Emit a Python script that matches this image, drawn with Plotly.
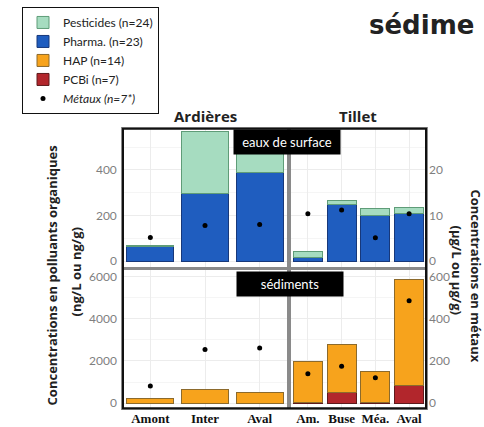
import plotly.graph_objects as go

# ---------------- data ----------------
sites_ard = ["Amont", "Inter", "Aval"]
sites_til = ["Am.", "Buse", "Méa.", "Aval"]

pharma_ard = [64, 296, 389]
pest_ard = [3, 274, 81]
pharma_til = [18, 247, 199, 207]
pest_til = [24, 19, 33, 28]
metal_eau_ard = [5.2, 7.8, 8.0]
metal_eau_til = [10.4, 11.2, 5.1, 10.4]

pcb_ard = [0, 0, 0]
hap_ard = [233, 665, 512]
pcb_til = [30, 500, 30, 820]
hap_til = [1960, 2290, 1490, 5030]
metal_sed_ard = [82, 254, 262]
metal_sed_til = [140, 175, 121, 485]

names = {"pest": "Pesticides (n=24)", "pharma": "Pharma. (n=23)",
         "hap": "HAP (n=14)", "pcb": "PCBi (n=7)", "metal": "<i>Métaux (n=7*)</i>"}

fill = {"pest": "#a6dcc0", "pharma": "#1f5dbf", "hap": "#f7a31c", "pcb": "#b2262c"}
edge = {"pest": "#5f9c78", "pharma": "#17387a", "hap": "#8c6a2c", "pcb": "#5e1a1c"}
rank = {"pest": 1, "pharma": 2, "hap": 3, "pcb": 4, "metal": 5}

W, H = 484, 427
def px(x): return x / W
def py(y): return 1 - y / H

fig = go.Figure()

def bar(key, xs, ys, xa, ya, show):
    fig.add_trace(go.Bar(x=xs, y=ys, name=names[key], legendgroup=key, showlegend=show,
                         legendrank=rank[key], xaxis=xa, yaxis=ya,
                         marker=dict(color=fill[key], line=dict(color=edge[key], width=1))))

def dots(xs, ys, xa, ya, show):
    fig.add_trace(go.Scatter(x=xs, y=ys, mode="markers", name=names["metal"], legendgroup="metal",
                             showlegend=show, legendrank=rank["metal"], xaxis=xa, yaxis=ya,
                             marker=dict(color="black", size=5)))

# row 1 : eaux de surface (bottom first in stack)
bar("pharma", sites_ard, pharma_ard, "x", "y", False)
bar("pest", sites_ard, pest_ard, "x", "y", False)
bar("pharma", sites_til, pharma_til, "x2", "y2", True)
bar("pest", sites_til, pest_til, "x2", "y2", True)
# row 2 : sédiments
bar("pcb", sites_ard, pcb_ard, "x3", "y3", False)
bar("hap", sites_ard, hap_ard, "x3", "y3", False)
bar("pcb", sites_til, pcb_til, "x4", "y4", True)
bar("hap", sites_til, hap_til, "x4", "y4", True)
# metals
dots(sites_ard, metal_eau_ard, "x", "y5", False)
dots(sites_til, metal_eau_til, "x2", "y6", True)
dots(sites_ard, metal_sed_ard, "x3", "y7", False)
dots(sites_til, metal_sed_til, "x4", "y8", False)

xl = [px(123), px(287)]
xr = [px(291), px(426)]
yt = [py(268), py(128)]
yb = [py(410), py(271)]

tickfont = dict(family="Lato, Open Sans, sans-serif", size=12, color="#7f7f7f")
xtickfont = dict(family="Liberation Serif, serif", size=13, color="#111111", weight="bold")
panel_line = dict(showline=True, linecolor="#8a8a8a", linewidth=1.5, mirror=True)

def xax(domain, anchor, labels):
    d = dict(domain=domain, anchor=anchor, type="category", showgrid=True, gridcolor="#ececec",
             gridwidth=1, ticks="", showticklabels=labels, tickfont=xtickfont, zeroline=False,
             ticklabelstandoff=-3)
    d.update(panel_line)
    return d

def yax(domain, anchor, rng, tickvals, labels, minor_dtick):
    d = dict(domain=domain, anchor=anchor, range=rng, tickvals=tickvals, showticklabels=labels,
             ticks="", tickfont=tickfont, showgrid=True, gridcolor="#ececec", zeroline=False,
             ticklabelstandoff=2,
             minor=dict(dtick=minor_dtick, showgrid=True, gridcolor="#f5f5f5", tick0=0))
    d.update(panel_line)
    return d

top_rng = [-28, 580]
bot_rng = [-230, 6280]
topm_rng = [-1.4, 29]
botm_rng = [-23, 628]

fig.update_layout(
    width=W, height=H, margin=dict(l=0, r=0, t=0, b=0),
    paper_bgcolor="white", plot_bgcolor="white",
    barmode="stack", bargap=0.14,
    xaxis=xax(xl, "y", False),
    xaxis2=xax(xr, "y2", False),
    xaxis3=xax(xl, "y3", True),
    xaxis4=xax(xr, "y4", True),
    yaxis=yax(yt, "x", top_rng, [0, 200, 400], True, 100),
    yaxis2=yax(yt, "x2", top_rng, [0, 200, 400], False, 100),
    yaxis3=yax(yb, "x3", bot_rng, [0, 2000, 4000, 6000], True, 1000),
    yaxis4=yax(yb, "x4", bot_rng, [0, 2000, 4000, 6000], False, 1000),
    yaxis5=dict(overlaying="y", anchor="x", range=topm_rng, showticklabels=False, showgrid=False,
                zeroline=False, showline=False),
    yaxis6=dict(overlaying="y2", anchor="x2", side="right", range=topm_rng, tickvals=[0, 10, 20],
                ticks="", tickfont=tickfont, showgrid=False, zeroline=False, showline=False,
                ticklabelstandoff=2),
    yaxis7=dict(overlaying="y3", anchor="x3", range=botm_rng, showticklabels=False, showgrid=False,
                zeroline=False, showline=False),
    yaxis8=dict(overlaying="y4", anchor="x4", side="right", range=botm_rng, tickvals=[0, 200, 400, 600],
                ticks="", tickfont=tickfont, showgrid=False, zeroline=False, showline=False,
                ticklabelstandoff=2),
    legend=dict(x=px(22), y=py(5), xanchor="left", yanchor="top", bordercolor="#111111",
                borderwidth=1, bgcolor="white", tracegroupgap=0, itemwidth=30,
                font=dict(family="Lato, Open Sans, sans-serif", size=12, color="#222222")),
    showlegend=True,
)

# outer dark frame
fig.add_shape(type="rect", xref="paper", yref="paper", x0=px(123), x1=px(426), y0=py(410), y1=py(128),
              line=dict(color="#111111", width=2), fillcolor="rgba(0,0,0,0)", layer="above")

title_font = dict(family="Open Sans, sans-serif", size=13, color="#222222")
ann = [
    dict(text="<b>Ardières</b>", x=px(205), y=py(115), font=dict(family="Open Sans, sans-serif", size=15, color="#222222")),
    dict(text="<b>Tillet</b>", x=px(358), y=py(115), font=dict(family="Open Sans, sans-serif", size=15, color="#222222")),
    dict(text="eaux de surface", x=px(287), y=py(141), bgcolor="black", width=104, height=22, borderpad=1,
         font=dict(family="Lato, Open Sans, sans-serif", size=13, color="white")),
    dict(text="sédiments", x=px(290), y=py(285), bgcolor="black", width=104, height=22, borderpad=1,
         font=dict(family="Lato, Open Sans, sans-serif", size=13, color="white")),
    dict(text="<b>Concentrations en polluants organiques</b>", x=px(52), y=py(276), textangle=-90, font=title_font),
    dict(text="<b>(ng/L ou ng/g)</b>", x=px(76), y=py(273), textangle=-90, font=title_font),
    dict(text="<b>Concentrations en métaux</b>", x=px(476), y=py(276), textangle=90, font=title_font),
    dict(text="<b>(µg/L ou µg/g)</b>", x=px(457), y=py(270), textangle=90, font=title_font),
    dict(text="<b>sédime</b>", x=px(367), y=py(23), xanchor="left",
         font=dict(family="DejaVu Sans, sans-serif", size=26, color="#222222")),
]
for a in ann:
    a.setdefault("xanchor", "center")
    a.setdefault("yanchor", "middle")
    fig.add_annotation(xref="paper", yref="paper", showarrow=False, **a)

fig.write_html("out.html", config={"displayModeBar": False},
               post_script="document.body.style.margin='0';document.body.style.overflow='hidden';")
